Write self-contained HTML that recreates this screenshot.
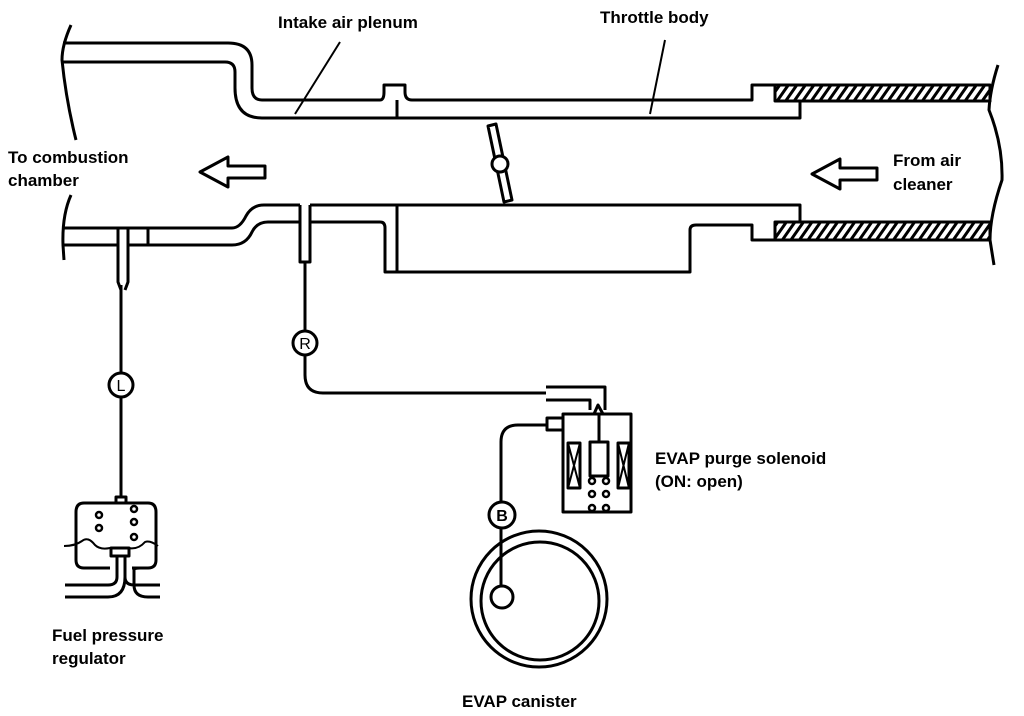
<!DOCTYPE html>
<html><head><meta charset="utf-8"><style>
html,body{margin:0;padding:0;background:#fff}
svg{display:block}
text{font-family:"Liberation Sans",sans-serif;font-weight:bold;font-size:17px;fill:#000}
</style></head><body>
<svg width="1024" height="716" viewBox="0 0 1024 716" xmlns="http://www.w3.org/2000/svg">
<defs>
<pattern id="h" width="7" height="7" patternUnits="userSpaceOnUse" patternTransform="rotate(35)">
<rect width="7" height="7" fill="#fff"/><rect width="3" height="7" fill="#000"/></pattern>
</defs>
<g fill="none" stroke="#000" stroke-width="3" stroke-linejoin="round">
<path d="M71 25 Q62 45 62 60 Q66 100 76 140"/>
<path d="M71 195 Q62 215 63 245 L64 260"/>
<path d="M998 65 Q990 90 989 110 Q1003 145 1002 180 Q990 215 990 240 L994 265"/>
<path d="M63 43 H228 Q252 43 252 65 V88 Q252 100 262 100 H380 Q384 100 384 92 V85 H405 V92 Q405 100 412 100 H752 V85 H775"/>
<path d="M63 62 H225 Q235 62 235 72 V88 Q235 118 262 118 H800 V101 H775"/>
<line x1="397" y1="100" x2="397" y2="118"/>
<rect x="775" y="85" width="215" height="16" fill="url(#h)"/>
<path d="M340 42 L295 114" stroke-width="2"/>
<path d="M665 40 L650 114" stroke-width="2"/>
<path d="M63 228 H232 Q240 228 246 216 Q252 205 264 205 H300 M310 205 H800 V222 H775"/>
<path d="M63 245 H118 M128 245 H232 Q246 245 252 232 Q257 222 268 222 H300 M310 222 H380 Q385 222 385 228 V272 H690 V230 Q690 225 696 225 H752 V240 H775"/>
<line x1="148" y1="228" x2="148" y2="245"/>
<line x1="397" y1="205" x2="397" y2="272"/>
<rect x="775" y="222" width="215" height="18" fill="url(#h)"/>
<path d="M118 228 V282 L121 290 M128 228 V282 L125 290"/>
<path d="M300 205 V262 H310 V205"/>
<path d="M121 285 V373 M121 397 V497"/>
<path d="M305 262 V331 M305 355 V375 Q305 393 323 393 H546"/>
<circle cx="121" cy="385" r="12"/>
<circle cx="305" cy="343" r="12"/>
<path d="M488 126 L496 124 L512 200 L504 202 Z" fill="#fff"/>
<circle cx="500" cy="164" r="8" fill="#fff"/>
<path d="M200 172 L228 157 V166 H265 V178 H228 V187 Z"/>
<path d="M812 174 L840 159 V168 H877 V180 H840 V189 Z"/>
<path d="M546 387 H605 V410 M546 400 H590 V410"/>
<path d="M594 414 L598 405 L603 414"/>
<rect x="563" y="414" width="68" height="98"/>
<path d="M563 418 H547 V430 H563"/>
<line x1="599" y1="414" x2="599" y2="442"/>
<rect x="590" y="442" width="18" height="34"/>
<rect x="568" y="443" width="12" height="45"/>
<rect x="618" y="443" width="11" height="45"/>
<path d="M568 443 L580 488 M580 443 L568 488 M618 443 L629 488 M629 443 L618 488" stroke-width="2"/>
<g stroke-width="2.5"><circle cx="592" cy="481" r="3"/><circle cx="606" cy="481" r="3"/><circle cx="592" cy="494" r="3"/><circle cx="606" cy="494" r="3"/><circle cx="592" cy="508" r="3"/><circle cx="606" cy="508" r="3"/></g>
<path d="M547 425 H518 Q501 425 501 442 V502 M501 528 V586"/>
<circle cx="502" cy="515" r="13"/>
<circle cx="502" cy="597" r="11"/>
<circle cx="539" cy="599" r="68"/>
<circle cx="540" cy="601" r="59"/>
<path d="M116 503 V497 H126 V503"/>
<path d="M84 503 H148 Q156 503 156 512 V560 Q156 568 148 568 H132 M110 568 H84 Q76 568 76 560 V512 Q76 503 84 503"/>
<path d="M64 546 Q75 546 82 541 Q88 536 95 545 Q100 550 110 548 H128 Q138 550 145 542 Q150 540 158 546" stroke-width="2"/>
<rect x="111" y="548" width="18" height="8"/>
<path d="M117 556 V577 Q117 585 108 585 H65 M125 556 V577 Q125 597 108 597 H65"/>
<path d="M125 577 Q125 585 134 585 V570 Q134 568 140 568 M134 585 Q134 597 148 597 H160 M134 585 H160"/>
<g stroke-width="2.5"><circle cx="99" cy="515" r="3"/><circle cx="134" cy="509" r="3"/><circle cx="99" cy="528" r="3"/><circle cx="134" cy="522" r="3"/><circle cx="134" cy="537" r="3"/></g>
</g>
<text x="121" y="391" text-anchor="middle" style="font-weight:normal;font-size:16px">L</text>
<text x="305" y="349" text-anchor="middle" style="font-weight:normal;font-size:16px">R</text>
<text x="502" y="521" text-anchor="middle" style="font-size:16px">B</text>
<text x="278" y="28">Intake air plenum</text>
<text x="600" y="23">Throttle body</text>
<text x="8" y="163">To combustion</text>
<text x="8" y="186">chamber</text>
<text x="893" y="166">From air</text>
<text x="893" y="190">cleaner</text>
<text x="655" y="464">EVAP purge solenoid</text>
<text x="655" y="487">(ON: open)</text>
<text x="52" y="641">Fuel pressure</text>
<text x="52" y="664">regulator</text>
<text x="462" y="707">EVAP canister</text>
</svg>
</body></html>
